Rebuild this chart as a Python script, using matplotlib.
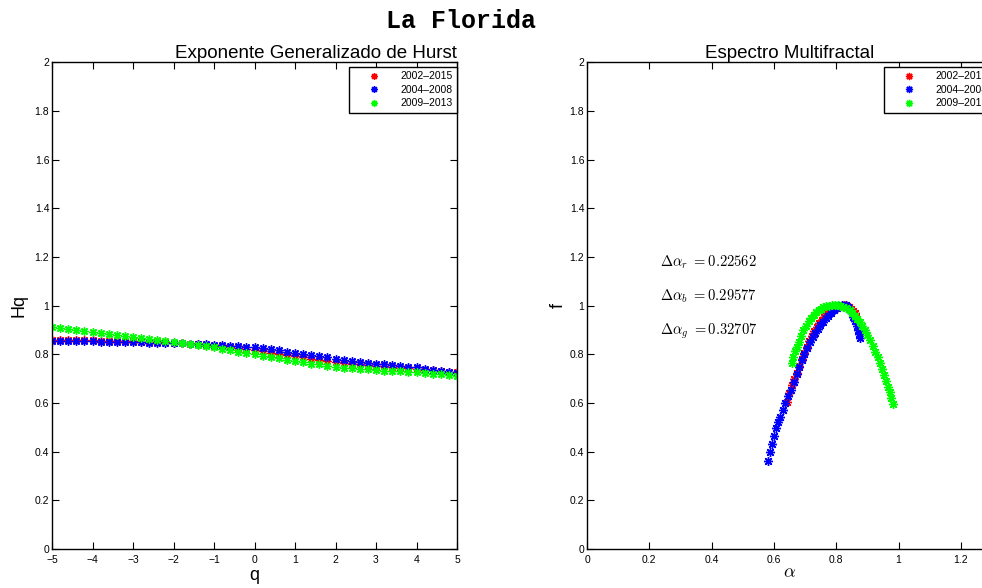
import numpy as np
import matplotlib
matplotlib.use("Agg")
import matplotlib.pyplot as plt

plt.rcParams['font.family'] = ['Liberation Sans', 'DejaVu Sans']
plt.rcParams['mathtext.fontset'] = 'cm'

labels = ['2002–2015', '2004–2008', '2009–2013']
colors = ['#ff0000', '#0000ff', '#00ff00']

# generalized Hurst exponent, q from -5 to 5 in steps of 0.2
q = np.linspace(-5, 5, 51)
hq_red = [0.860, 0.859, 0.859, 0.858, 0.858, 0.857, 0.856, 0.855, 0.855, 0.854,
          0.853, 0.852, 0.851, 0.850, 0.849, 0.848, 0.846, 0.844, 0.842, 0.839,
          0.836, 0.833, 0.829, 0.825, 0.821, 0.817, 0.812, 0.807, 0.802, 0.797,
          0.792, 0.787, 0.782, 0.778, 0.773, 0.768, 0.765, 0.761, 0.758, 0.755,
          0.752, 0.750, 0.747, 0.745, 0.742, 0.740, 0.737, 0.734, 0.732, 0.729,
          0.726]
hq_blue = [0.855, 0.855, 0.854, 0.854, 0.853, 0.853, 0.852, 0.852, 0.851, 0.851,
           0.850, 0.849, 0.848, 0.848, 0.847, 0.846, 0.845, 0.844, 0.843, 0.841,
           0.840, 0.838, 0.836, 0.833, 0.831, 0.828, 0.824, 0.820, 0.816, 0.811,
           0.807, 0.802, 0.797, 0.792, 0.787, 0.782, 0.778, 0.774, 0.770, 0.766,
           0.762, 0.759, 0.756, 0.752, 0.749, 0.746, 0.741, 0.736, 0.732, 0.727,
           0.722]
hq_green = [0.910, 0.906, 0.902, 0.898, 0.894, 0.890, 0.886, 0.883, 0.879, 0.876,
            0.872, 0.868, 0.864, 0.860, 0.856, 0.852, 0.847, 0.842, 0.838, 0.833,
            0.828, 0.822, 0.817, 0.811, 0.806, 0.800, 0.794, 0.789, 0.783, 0.778,
            0.772, 0.767, 0.762, 0.758, 0.753, 0.748, 0.745, 0.743, 0.740, 0.738,
            0.735, 0.733, 0.732, 0.730, 0.729, 0.727, 0.724, 0.721, 0.718, 0.715,
            0.712]

# multifractal spectrum
alpha_red = [0.641, 0.649, 0.657, 0.665, 0.673, 0.681, 0.689, 0.697, 0.705, 0.713,
             0.721, 0.729, 0.737, 0.745, 0.753, 0.761, 0.770, 0.779, 0.788, 0.797,
             0.807, 0.815, 0.825, 0.834, 0.841, 0.848, 0.854, 0.860, 0.864, 0.868]
f_red = [0.605, 0.640, 0.672, 0.700, 0.722, 0.752, 0.780, 0.806, 0.831, 0.855,
         0.876, 0.895, 0.913, 0.929, 0.942, 0.955, 0.968, 0.978, 0.986, 0.992,
         0.998, 1.000, 1.002, 1.000, 0.995, 0.987, 0.978, 0.968, 0.955, 0.940]

alpha_blue = [0.580, 0.587, 0.594, 0.600, 0.607, 0.613, 0.620, 0.628, 0.636, 0.644,
              0.655, 0.664, 0.673, 0.682, 0.690, 0.698, 0.707, 0.716, 0.725, 0.733,
              0.741, 0.749, 0.757, 0.766, 0.775, 0.784, 0.793, 0.802, 0.811, 0.820,
              0.830, 0.839, 0.845, 0.850, 0.855, 0.860, 0.865, 0.871, 0.874, 0.876]
f_blue = [0.363, 0.398, 0.432, 0.466, 0.498, 0.521, 0.543, 0.572, 0.600, 0.627,
          0.653, 0.685, 0.717, 0.747, 0.776, 0.801, 0.826, 0.850, 0.872, 0.889,
          0.905, 0.920, 0.934, 0.947, 0.959, 0.971, 0.982, 0.990, 0.997, 1.002,
          1.003, 0.995, 0.982, 0.970, 0.954, 0.936, 0.918, 0.899, 0.882, 0.865]

alpha_green = [0.657, 0.662, 0.668, 0.673, 0.680, 0.687, 0.694, 0.703, 0.712, 0.720,
               0.727, 0.736, 0.745, 0.752, 0.759, 0.768, 0.777, 0.786, 0.795, 0.804,
               0.812, 0.822, 0.832, 0.844, 0.852, 0.860, 0.868, 0.876, 0.884, 0.892,
               0.900, 0.909, 0.917, 0.925, 0.933, 0.941, 0.948, 0.954, 0.960, 0.967,
               0.972, 0.977, 0.983]
f_green = [0.763, 0.790, 0.812, 0.831, 0.852, 0.876, 0.899, 0.918, 0.936, 0.950,
           0.961, 0.972, 0.982, 0.988, 0.993, 0.997, 1.000, 1.002, 1.002, 1.001,
           1.000, 0.995, 0.990, 0.982, 0.970, 0.957, 0.946, 0.934, 0.917, 0.899,
           0.880, 0.858, 0.834, 0.810, 0.787, 0.763, 0.738, 0.714, 0.690, 0.667,
           0.645, 0.622, 0.597]

delta_names = ['r', 'b', 'g']
delta_alpha = ['0.22562', '0.29577', '0.32707']

star = (8, 2, 0)

fig = plt.figure(figsize=(9.82, 5.88), dpi=100)
ax1 = fig.add_axes([0.053, 0.0663, 0.4124, 0.828])
ax2 = fig.add_axes([0.5978, 0.0663, 0.4124, 0.828])


def style_axes(ax):
    ax.set_ylim(0, 2)
    ax.set_yticks(np.arange(0, 2.01, 0.2))
    ax.set_yticklabels(['%g' % v for v in np.arange(0, 2.01, 0.2).round(1)])
    ax.tick_params(direction='in', top=True, right=True, length=5, width=0.8,
                   labelsize=7.5, pad=2)
    ax.tick_params(axis='x', pad=4)
    for s in ax.spines.values():
        s.set_linewidth(1.0)


for h, c, lab in zip([hq_red, hq_blue, hq_green], colors, labels):
    ax1.plot(q, h, linestyle='none', marker=star, markersize=6, mec=c, mew=1.0,
             label=lab)
ax1.set_xlim(-5, 5)
ax1.set_xticks(range(-5, 6))
style_axes(ax1)
ax1.set_xlabel('q', fontsize=13, labelpad=2)
ax1.set_ylabel('Hq', fontsize=13, labelpad=5)
ax1.set_title('Exponente Generalizado de Hurst', fontsize=13.5, pad=3, loc='right')

for a, f, c, lab in zip([alpha_red, alpha_blue, alpha_green], [f_red, f_blue, f_green],
                        colors, labels):
    ax2.plot(a, f, linestyle='none', marker=star, markersize=6.5, mec=c, mew=1.0,
             label=lab)
ax2.set_xlim(0, 1.3)
ax2.set_xticks([0, 0.2, 0.4, 0.6, 0.8, 1.0, 1.2])
ax2.set_xticklabels(['0', '0.2', '0.4', '0.6', '0.8', '1', '1.2'])
style_axes(ax2)
ax2.set_xlabel(r'$\alpha$', fontsize=13, labelpad=0)
ax2.set_ylabel('f', fontsize=13, labelpad=2)
ax2.set_title('Espectro Multifractal', fontsize=13.5, pad=3)

for i, (n, d) in enumerate(zip(delta_names, delta_alpha)):
    ax2.text(0.234, 1.179 - 0.142 * i, r'$\Delta\alpha_%s\ {=}%s$' % (n, d),
             fontsize=10.5, va='center', ha='left')

for ax in (ax1, ax2):
    leg = ax.legend(loc='upper right', bbox_to_anchor=(1.0, 0.99), borderaxespad=0,
                    fontsize=7.5, fancybox=False, framealpha=1, edgecolor='black',
                    handlelength=4, handletextpad=0.6, labelspacing=0.35,
                    borderpad=0.4, markerscale=0.8)
    leg.get_frame().set_linewidth(1.0)

fig.text(0.469, 0.965, 'La Florida', fontsize=18, fontweight='bold',
         family='Liberation Mono', ha='center', va='center')

fig.savefig('out.png', dpi=100)
